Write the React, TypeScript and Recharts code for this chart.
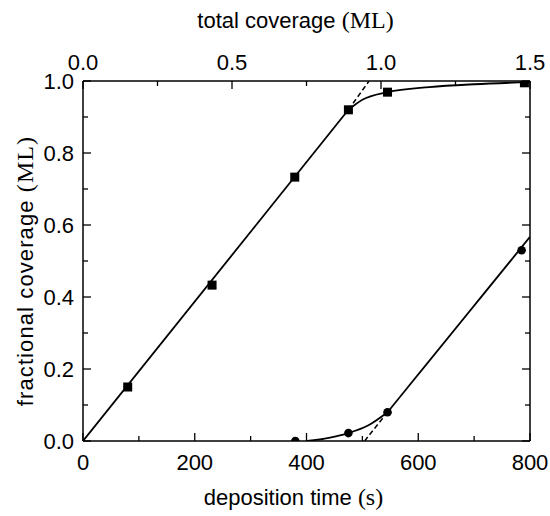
import { LineChart, Line, XAxis, YAxis } from 'recharts';

// axis ticks (minor + major) and the ones that carry a label
const timeTicks = [0, 100, 200, 300, 400, 500, 600, 700, 800];
const timeLabels = [0, 200, 400, 600, 800];
const fracTicks = [0, 0.1, 0.2, 0.3, 0.4, 0.5, 0.6, 0.7, 0.8, 0.9, 1.0];
const fracLabels = [0, 0.2, 0.4, 0.6, 0.8, 1.0];
const mlTicks = [0, 0.25, 0.5, 0.75, 1.0, 1.25, 1.5];
const mlLabels = [0, 0.5, 1.0, 1.5];

// measured points (t = deposition time in s, y = fractional coverage)
const squares = [
  { t: 80, y: 0.15 },
  { t: 231, y: 0.433 },
  { t: 379, y: 0.733 },
  { t: 475, y: 0.92 },
  { t: 545, y: 0.969 },
  { t: 790, y: 0.995 },
];
const circles = [
  { t: 380, y: 0 },
  { t: 475, y: 0.022 },
  { t: 545, y: 0.08 },
  { t: 785, y: 0.53 },
];

// fitted curves
const squareLine = [
  { t: 0, y: 0 },
  { t: 475, y: 0.92 },
];
const squareKnee = [
  { t: 475, y: 0.92 },
  { t: 500, y: 0.948 },
  { t: 545, y: 0.969 },
  { t: 620, y: 0.983 },
  { t: 700, y: 0.991 },
  { t: 800, y: 0.997 },
];
const squareExtrap = [
  { t: 475, y: 0.92 },
  { t: 512, y: 1.0 },
];
const circleKnee = [
  { t: 401, y: 0 },
  { t: 440, y: 0.009 },
  { t: 475, y: 0.022 },
  { t: 510, y: 0.043 },
  { t: 545, y: 0.08 },
];
const circleLine = [
  { t: 545, y: 0.08 },
  { t: 800, y: 0.567 },
];
const circleExtrap = [
  { t: 504, y: 0 },
  { t: 545, y: 0.08 },
];

// top axis span in ML (keeps the top axis alive)
const mlSpan = mlTicks.map((ml) => ({ ml, y: null }));

const SANS = '"Liberation Sans", Arial, Helvetica, sans-serif';
const SERIF = '"Liberation Serif", "Times New Roman", serif';
const FS = 22;
const FS_SERIF = 24;

const hasLabel = (list: number[], v: number) => list.some((l) => Math.abs(l - v) < 1e-9);

const BottomTick = (props: any) => {
  const { x, y, payload } = props;
  const major = hasLabel(timeLabels, payload.value);
  return (
    <g>
      <line x1={x} y1={y} x2={x} y2={y - (major ? 8 : 5)} stroke="#000" strokeWidth={1.3} />
      {major && (
        <text x={x} y={y + 29} textAnchor="middle" fontFamily={SANS} fontSize={FS} fill="#000">
          {payload.value}
        </text>
      )}
    </g>
  );
};

const TopTick = (props: any) => {
  const { x, y, payload } = props;
  const major = hasLabel(mlLabels, payload.value);
  return (
    <g>
      <line x1={x} y1={y} x2={x} y2={y + (major ? 8 : 5)} stroke="#000" strokeWidth={1.3} />
      {major && (
        <text x={x} y={y - 11} textAnchor="middle" fontFamily={SANS} fontSize={FS} fill="#000">
          {payload.value.toFixed(1)}
        </text>
      )}
    </g>
  );
};

const LeftTick = (props: any) => {
  const { x, y, payload } = props;
  const major = hasLabel(fracLabels, payload.value);
  return (
    <g>
      <line x1={x} y1={y} x2={x + (major ? 8 : 5)} y2={y} stroke="#000" strokeWidth={1.3} />
      {major && (
        <text x={x - 9} y={y + 8} textAnchor="end" fontFamily={SANS} fontSize={FS} fill="#000">
          {payload.value.toFixed(1)}
        </text>
      )}
    </g>
  );
};

const RightTick = (props: any) => {
  const { x, y, payload } = props;
  const major = hasLabel(fracLabels, payload.value);
  return <line x1={x} y1={y} x2={x - (major ? 8 : 5)} y2={y} stroke="#000" strokeWidth={1.3} />;
};

const SquareDot = (props: any) => {
  const { cx, cy, index } = props;
  return <rect key={`sq-${index}`} x={cx - 4.5} y={cy - 4.5} width={9} height={9} fill="#000" />;
};

const CircleDot = (props: any) => {
  const { cx, cy, index } = props;
  return <circle key={`ci-${index}`} cx={cx} cy={cy} r={4.3} fill="#000" />;
};

const BottomTitle = (props: any) => {
  const vb = props.viewBox;
  return (
    <text x={vb.x + vb.width / 2 - 13} y={vb.y + 64} textAnchor="middle" fontFamily={SANS} fontSize={FS} fill="#000">
      deposition time <tspan fontFamily={SERIF} fontSize={FS_SERIF}>(s)</tspan>
    </text>
  );
};

const TopTitle = (props: any) => {
  const vb = props.viewBox;
  return (
    <text x={vb.x + vb.width / 2 - 11} y={vb.y + 28} textAnchor="middle" fontFamily={SANS} fontSize={FS} fill="#000">
      total coverage <tspan fontFamily={SERIF} fontSize={FS_SERIF}>(ML)</tspan>
    </text>
  );
};

const LeftTitle = (props: any) => {
  const vb = props.viewBox;
  const x = 33;
  const y = vb.y + vb.height / 2 + 10;
  return (
    <text
      x={x}
      y={y}
      transform={`rotate(-90, ${x}, ${y})`}
      textAnchor="middle"
      fontFamily={SANS}
      fontSize={FS}
      letterSpacing={1.1}
      fill="#000"
    >
      fractional coverage <tspan fontFamily={SERIF} fontSize={FS_SERIF}>(ML)</tspan>
    </text>
  );
};

const App = () => {
  return (
    <div style={{ position: 'absolute', left: 0, top: 0, width: 550, height: 516, background: '#fff' }}>
      <LineChart width={550} height={516} margin={{ top: 0, right: 0, bottom: 0, left: 0 }}>
        <XAxis
          xAxisId="bottom"
          dataKey="t"
          type="number"
          orientation="bottom"
          domain={[0, 800]}
          ticks={timeTicks}
          allowDataOverflow
          height={75}
          tickSize={0}
          tickMargin={0}
          tickLine={false}
          tick={BottomTick}
          axisLine={{ stroke: '#000', strokeWidth: 1.5 }}
          label={{ content: BottomTitle }}
        />
        <XAxis
          xAxisId="top"
          dataKey="ml"
          type="number"
          orientation="top"
          domain={[0, 1.5]}
          ticks={mlTicks}
          allowDataOverflow
          height={81}
          tickSize={0}
          tickMargin={0}
          tickLine={false}
          tick={TopTick}
          axisLine={{ stroke: '#000', strokeWidth: 1.5 }}
          label={{ content: TopTitle }}
        />
        <YAxis
          yAxisId="left"
          type="number"
          domain={[0, 1]}
          ticks={fracTicks}
          allowDataOverflow
          width={83}
          tickSize={0}
          tickMargin={0}
          tickLine={false}
          tick={LeftTick}
          axisLine={{ stroke: '#000', strokeWidth: 1.5 }}
          label={{ content: LeftTitle }}
        />
        <YAxis
          yAxisId="right"
          orientation="right"
          type="number"
          domain={[0, 1]}
          ticks={fracTicks}
          allowDataOverflow
          width={20}
          tickSize={0}
          tickMargin={0}
          tickLine={false}
          tick={RightTick}
          axisLine={{ stroke: '#000', strokeWidth: 1.5 }}
        />
        <Line
          xAxisId="top"
          yAxisId="right"
          data={mlSpan}
          dataKey="y"
          stroke="none"
          dot={false}
          activeDot={false}
          isAnimationActive={false}
        />
        <Line xAxisId="bottom" yAxisId="left" data={squareLine} dataKey="y" type="linear" stroke="#000" strokeWidth={1.8} dot={false} isAnimationActive={false} />
        <Line xAxisId="bottom" yAxisId="left" data={squareKnee} dataKey="y" type="monotone" stroke="#000" strokeWidth={1.8} dot={false} isAnimationActive={false} />
        <Line
          xAxisId="bottom"
          yAxisId="left"
          data={squareExtrap}
          dataKey="y"
          type="linear"
          stroke="#000"
          strokeWidth={1.5}
          strokeDasharray="5 3"
          dot={false}
          isAnimationActive={false}
        />
        <Line xAxisId="bottom" yAxisId="left" data={circleKnee} dataKey="y" type="monotone" stroke="#000" strokeWidth={1.8} dot={false} isAnimationActive={false} />
        <Line xAxisId="bottom" yAxisId="left" data={circleLine} dataKey="y" type="linear" stroke="#000" strokeWidth={1.8} dot={false} isAnimationActive={false} />
        <Line
          xAxisId="bottom"
          yAxisId="left"
          data={circleExtrap}
          dataKey="y"
          type="linear"
          stroke="#000"
          strokeWidth={1.5}
          strokeDasharray="5 3"
          dot={false}
          isAnimationActive={false}
        />
        <Line
          xAxisId="bottom"
          yAxisId="left"
          data={squares}
          dataKey="y"
          stroke="none"
          dot={SquareDot}
          activeDot={false}
          isAnimationActive={false}
        />
        <Line
          xAxisId="bottom"
          yAxisId="left"
          data={circles}
          dataKey="y"
          stroke="none"
          dot={CircleDot}
          activeDot={false}
          isAnimationActive={false}
        />
      </LineChart>
    </div>
  );
};

export default App;
